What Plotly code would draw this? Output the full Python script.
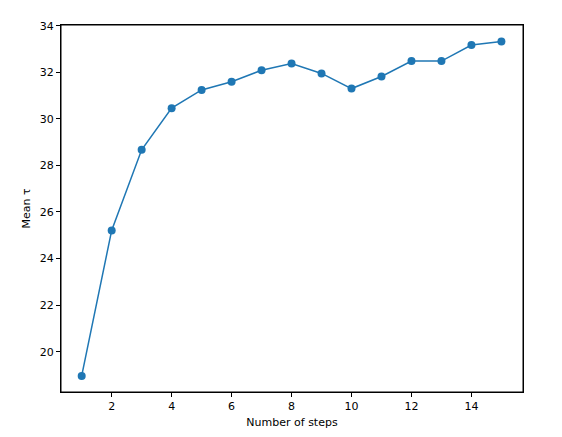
import plotly.graph_objects as go

steps = list(range(1, 16))
mean_tau = [18.96, 25.21, 28.67, 30.46, 31.24, 31.59, 32.09, 32.38, 31.95, 31.30, 31.82, 32.48, 32.48, 33.17, 33.32]

fig = go.Figure(go.Scatter(x=steps, y=mean_tau, mode="lines+markers",
                           line=dict(color="#1f77b4", width=1.5),
                           marker=dict(color="#1f77b4", size=8)))
ax = dict(showgrid=False, zeroline=False, showline=True, mirror=True, linecolor="black",
          linewidth=1, ticks="outside", ticklen=4, tickcolor="black",
          tickfont=dict(size=11, color="black"))
fig.update_layout(
    width=562, height=437, plot_bgcolor="white", paper_bgcolor="white",
    margin=dict(l=53, r=47, t=15, b=53), showlegend=False,
    font=dict(family="DejaVu Sans", color="black"),
    xaxis=dict(range=[0.31, 15.72], tickvals=[2, 4, 6, 8, 10, 12, 14],
               title=dict(text="Number of steps", font=dict(size=11), standoff=6), **ax),
    yaxis=dict(range=[18.27, 34.03], tickvals=[20, 22, 24, 26, 28, 30, 32, 34],
               title=dict(text="Mean τ", font=dict(size=11), standoff=6), **ax),
)
fig.add_shape(type="rect", xref="paper", yref="paper", x0=0, y0=0, x1=1, y1=1,
              line=dict(color="black", width=1))
fig.write_html("out.html")
